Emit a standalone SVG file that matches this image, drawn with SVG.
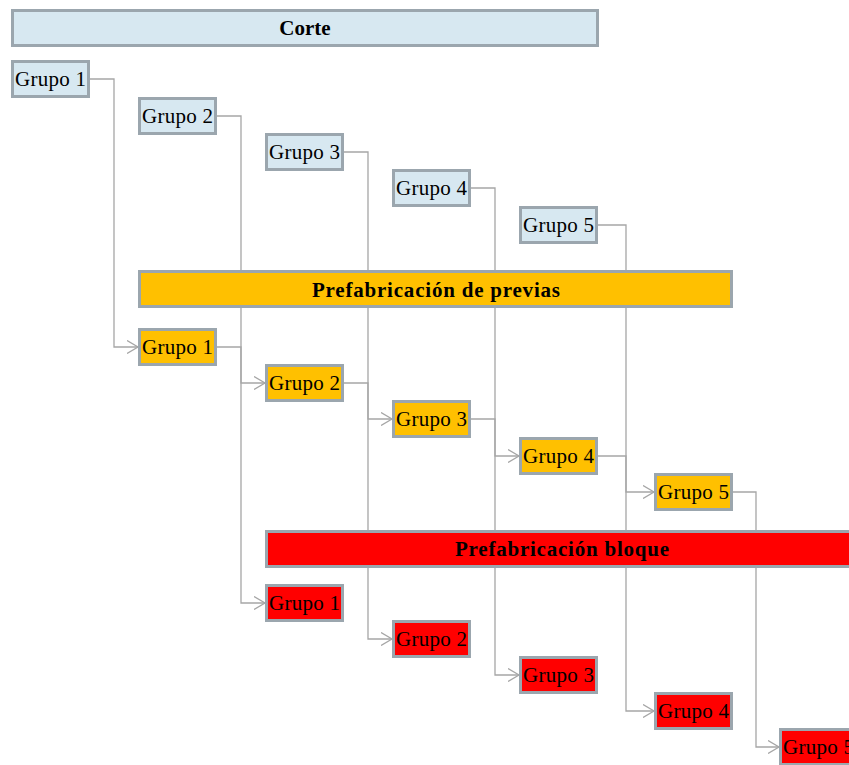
<svg xmlns="http://www.w3.org/2000/svg" width="849" height="765" viewBox="0 0 849 765">
  <style>
    .box { stroke: #9ba6ae; stroke-width: 3; }
    .blue { fill: #d7e8f1; }
    .orange { fill: #ffc000; }
    .red { fill: #ff0000; }
    .lbl { font-family: "Liberation Serif", "DejaVu Serif", serif; font-size: 21px; fill: #000; }
    .hdr { font-family: "Liberation Serif", "DejaVu Serif", serif; font-size: 21px; font-weight: bold; fill: #000; text-anchor: middle; }
    .conn { fill: none; stroke: #a6a6a6; stroke-width: 1.3; marker-end: url(#arr); }
  </style>
  <defs>
    <marker id="arr" markerWidth="14" markerHeight="14" refX="11" refY="7" orient="auto" markerUnits="userSpaceOnUse">
      <path d="M0,0.5 L11,7 L0,13.5" fill="none" stroke="#a6a6a6" stroke-width="1.3"/>
    </marker>
  </defs>

  <!-- connectors (drawn first so the bars sit on top) -->
  <g id="connectors">
    <path class="conn" d="M89,79 H114 V347 H138"/>
    <path class="conn" d="M216,116 H241 V603 H265"/>
    <path class="conn" d="M343,152 H368 V639 H392"/>
    <path class="conn" d="M470,188 H495 V675 H519"/>
    <path class="conn" d="M597,225 H626 V711 H654"/>
    <path class="conn" d="M216,347 H241 V383 H265"/>
    <path class="conn" d="M343,383 H368 V419 H392"/>
    <path class="conn" d="M470,419 H495 V456 H519"/>
    <path class="conn" d="M597,456 H626 V492 H654"/>
    <path class="conn" d="M732,492 H756 V747 H779"/>
  </g>

  <!-- Corte stage -->
  <g id="corte">
    <rect class="box blue" x="12.5" y="10.5" width="585" height="35"/>
    <text class="hdr" x="305" y="35">Corte</text>
  </g>
  <g id="corte-g1"><rect class="box blue" x="12.5" y="61.5" width="76" height="35"/><text class="lbl" x="15" y="86" textLength="71">Grupo 1</text></g>
  <g id="corte-g2"><rect class="box blue" x="139.5" y="98.5" width="76" height="35"/><text class="lbl" x="142" y="123" textLength="71">Grupo 2</text></g>
  <g id="corte-g3"><rect class="box blue" x="266.5" y="134.5" width="76" height="35"/><text class="lbl" x="269" y="159" textLength="71">Grupo 3</text></g>
  <g id="corte-g4"><rect class="box blue" x="393.5" y="170.5" width="76" height="35"/><text class="lbl" x="396" y="195" textLength="71">Grupo 4</text></g>
  <g id="corte-g5"><rect class="box blue" x="520.5" y="207.5" width="76" height="35"/><text class="lbl" x="523" y="232" textLength="71">Grupo 5</text></g>

  <!-- Prefabricación de previas stage -->
  <g id="previas">
    <rect class="box orange" x="139.5" y="271.5" width="592" height="35"/>
    <text class="hdr" x="436" y="297" textLength="248">Prefabricación de previas</text>
  </g>
  <g id="previas-g1"><rect class="box orange" x="139.5" y="329.5" width="76" height="35"/><text class="lbl" x="142" y="354" textLength="71">Grupo 1</text></g>
  <g id="previas-g2"><rect class="box orange" x="266.5" y="365.5" width="76" height="35"/><text class="lbl" x="269" y="390" textLength="71">Grupo 2</text></g>
  <g id="previas-g3"><rect class="box orange" x="393.5" y="401.5" width="76" height="35"/><text class="lbl" x="396" y="426" textLength="71">Grupo 3</text></g>
  <g id="previas-g4"><rect class="box orange" x="520.5" y="438.5" width="76" height="35"/><text class="lbl" x="523" y="463" textLength="71">Grupo 4</text></g>
  <g id="previas-g5"><rect class="box orange" x="655.5" y="474.5" width="76" height="35"/><text class="lbl" x="658" y="499" textLength="71">Grupo 5</text></g>

  <!-- Prefabricación bloque stage -->
  <g id="bloque">
    <rect class="box red" x="266.5" y="531.5" width="600" height="35"/>
    <text class="hdr" x="562" y="556" textLength="214">Prefabricación bloque</text>
  </g>
  <g id="bloque-g1"><rect class="box red" x="266.5" y="585.5" width="76" height="35"/><text class="lbl" x="269" y="610" textLength="71">Grupo 1</text></g>
  <g id="bloque-g2"><rect class="box red" x="393.5" y="621.5" width="76" height="35"/><text class="lbl" x="396" y="646" textLength="71">Grupo 2</text></g>
  <g id="bloque-g3"><rect class="box red" x="520.5" y="657.5" width="76" height="35"/><text class="lbl" x="523" y="682" textLength="71">Grupo 3</text></g>
  <g id="bloque-g4"><rect class="box red" x="655.5" y="693.5" width="76" height="35"/><text class="lbl" x="658" y="718" textLength="71">Grupo 4</text></g>
  <g id="bloque-g5"><rect class="box red" x="780.5" y="729.5" width="76" height="35"/><text class="lbl" x="783" y="754" textLength="71">Grupo 5</text></g>
</svg>
